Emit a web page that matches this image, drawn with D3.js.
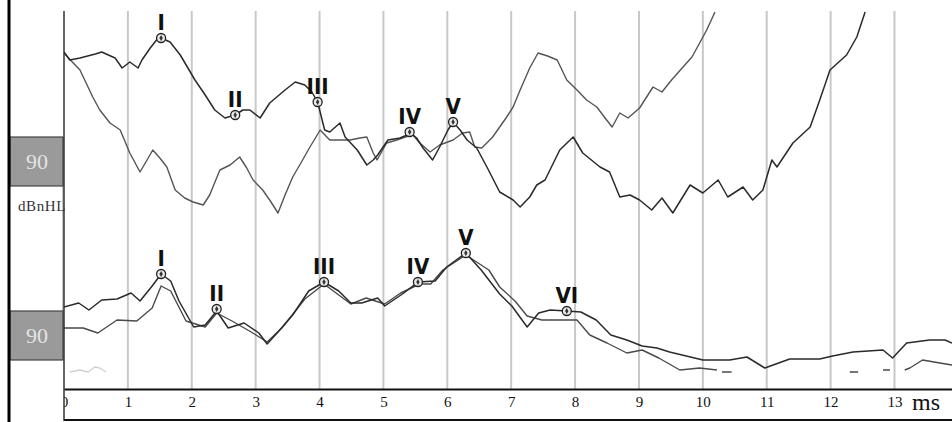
<!DOCTYPE html>
<html>
<head>
<meta charset="utf-8">
<script src="https://cdn.jsdelivr.net/npm/d3@7"></script>
<style>
  body { margin: 0; background: #fff; }
  svg { display: block; }
</style>
</head>
<body>
<svg id="chart" width="952" height="422"></svg>
<script>
// time axis, ms
const tickValues = d3.range(0, 14);

// upper recording pair (amplitude relative to its 90 dBnHL baseline)
const upperA = [[0,10.9],[0.09,10.1],[0.25,10.3],[0.49,10.7],[0.59,10.9],[0.8,10.3],[0.91,9.3],[1.03,9.9],[1.16,9.3],[1.22,10.1],[1.35,11.3],[1.46,12.2],[1.52,12.3],[1.66,11.9],[1.82,10.6],[2.05,8.1],[2.21,6.6],[2.36,5.1],[2.52,4.3],[2.68,4.6],[2.8,5.1],[2.91,5.1],[3.07,4.3],[3.22,5.8],[3.46,7.1],[3.62,7.9],[3.77,7.6],[3.88,6.9],[3.97,5.9],[4.08,3.1],[4.16,2.9],[4.32,3.8],[4.4,2.4],[4.59,1.1],[4.74,-0.4],[4.84,0.1],[4.91,0.6],[5.07,2.1],[5.26,2.3],[5.37,2.6],[5.41,2.9],[5.52,2.3],[5.62,1.3],[5.77,0.1],[5.88,1.4],[6.01,3.1],[6.09,3.9],[6.2,3.1],[6.31,2.1],[6.46,1.3],[6.62,-0.6],[6.82,-3.1],[7.03,-3.9],[7.14,-4.6],[7.29,-3.6],[7.4,-2.4],[7.53,-1.9],[7.76,1.1],[7.97,2.4],[8.12,0.8],[8.39,-0.6],[8.54,-1.1],[8.7,-3.6],[8.86,-3.4],[9.01,-3.9],[9.2,-4.9],[9.36,-3.7],[9.53,-5.2],[9.8,-2.4],[10,-3.2],[10.24,-1.9],[10.39,-3.6],[10.63,-2.6],[10.78,-3.9],[10.94,-2.9],[11.08,0.1],[11.16,-0.6],[11.41,1.8],[11.68,3.4],[11.83,6.1],[11.99,9.1],[12.25,10.6],[12.41,12.4],[12.54,14.9]];
const upperB = [[0,10.8],[0.13,9.9],[0.25,9.1],[0.45,6.4],[0.56,5.1],[0.72,3.8],[0.88,3.1],[1.03,0.8],[1.19,-1.1],[1.3,0.1],[1.39,1.1],[1.5,0.3],[1.61,-0.6],[1.74,-2.9],[1.89,-3.7],[2.02,-4.1],[2.18,-4.4],[2.28,-3.4],[2.44,-0.9],[2.6,-0.4],[2.75,0.4],[2.86,-0.7],[2.96,-1.9],[3.11,-2.9],[3.22,-3.9],[3.35,-5.2],[3.46,-3.4],[3.58,-1.6],[3.69,-0.4],[3.85,1.4],[4.01,3.1],[4.16,2.1],[4.37,2.1],[4.48,2.1],[4.63,2.3],[4.74,2.4],[4.84,0.8],[4.9,0.1],[5.05,1.8],[5.21,2.1],[5.34,2.4],[5.46,2.6],[5.57,1.8],[5.73,0.9],[5.88,1.6],[6.09,2.1],[6.24,2.8],[6.35,2.9],[6.43,1.4],[6.54,1.3],[6.71,2.4],[6.93,4.4],[7.03,5.4],[7.14,7.1],[7.29,9.3],[7.42,10.8],[7.57,10.5],[7.72,10.1],[7.87,8.1],[8.03,7.1],[8.18,6.1],[8.34,5.4],[8.47,4.3],[8.58,3.4],[8.7,4.8],[8.83,4.3],[9.01,5.3],[9.22,7.4],[9.36,6.9],[9.51,8.1],[9.69,9.4],[9.83,10.4],[9.95,11.8],[10.06,13.1],[10.19,14.9]];

// lower recording pair
const lowerC = [[0,2.8],[0.23,3.2],[0.39,2.5],[0.59,3.5],[0.83,3.6],[1.05,4.2],[1.19,3.4],[1.38,4.9],[1.52,6.1],[1.67,5.4],[1.8,3.4],[2.03,0.8],[2.21,1.0],[2.39,2.4],[2.57,0.7],[2.82,1.2],[3.05,0.2],[3.18,-0.9],[3.35,0.3],[3.58,2.0],[3.83,4.4],[4.07,5.3],[4.3,4.4],[4.49,3.2],[4.66,3.2],[4.91,3.7],[5.02,2.9],[5.32,4.2],[5.54,5.3],[5.81,5.4],[5.99,6.8],[6.29,8.2],[6.53,6.5],[6.82,4.1],[7.01,2.9],[7.25,0.8],[7.43,2.2],[7.61,2.5],[7.87,2.4],[8.09,2.3],[8.33,1.5],[8.56,0.0],[8.81,-0.5],[9.05,-1.1],[9.28,-1.3],[9.48,-1.7],[10,-2.5],[10.42,-2.5],[10.69,-2.2],[10.97,-3.3],[11.36,-2.4],[11.83,-2.4],[12.03,-2.1],[12.35,-1.7],[12.82,-1.5],[12.97,-2.3],[13.19,-0.8],[13.55,-0.5],[13.79,-0.5],[13.9,-0.8]];
const lowerD = [[0,0.7],[0.3,0.7],[0.53,0.2],[0.83,1.5],[1.14,1.4],[1.38,2.7],[1.52,4.9],[1.67,4.4],[1.91,1.4],[2.21,0.8],[2.39,2.2],[2.63,1.4],[2.93,0.3],[3.18,-0.7],[3.41,0.7],[3.77,3.6],[4.07,5.1],[4.49,3.1],[4.73,3.7],[5.02,3.1],[5.27,4.2],[5.57,5.1],[5.74,5.1],[5.93,6.5],[6.29,8.0],[6.65,6.5],[6.82,4.8],[7.06,3.4],[7.25,1.9],[7.48,1.5],[7.73,1.5],[8.03,1.5],[8.23,0.0],[8.5,-0.8],[8.81,-1.8],[9.05,-1.5],[9.31,-2.3],[9.64,-3.5],[9.95,-3.3],[10.22,-3.5],null,[10.3,-3.7],[10.45,-3.7],null,[12.3,-3.7],[12.43,-3.7],null,[12.82,-3.5],[12.93,-3.5],null,[13.16,-3.5],[13.24,-3.3],[13.44,-2.5],[13.71,-2.8],[13.9,-3.0]];
const lowerFaint = [[0.09,-3.7],[0.25,-3.5],[0.38,-3.7],[0.48,-3.2],[0.56,-3.3],[0.66,-3.7]];

// wave labels
const upperPeakLabels = ['I', 'II', 'III', 'IV', 'V'];
const upperPeakTimes = [1.52, 2.68, 3.97, 5.41, 6.09];
const upperPeakAmps = [12.3, 4.6, 5.9, 2.9, 3.9];
const lowerPeakLabels = ['I', 'II', 'III', 'IV', 'V', 'VI'];
const lowerPeakTimes = [1.52, 2.39, 4.07, 5.54, 6.29, 7.87];
const lowerPeakAmps = [6.1, 2.6, 5.3, 5.3, 8.2, 2.4];

const levelLabels = ['90', '90'];

const W = 952, H = 422;
const plotLeft = 64, plotTop = 11, plotBottom = 389;

const svg = d3.select('#chart');

const x = d3.scaleLinear().domain([0, 13.9]).range([plotLeft, W]);
const yUpper = d3.scaleLinear().domain([-22.8, 15]).range([plotBottom, plotTop]);
const yLower = d3.scaleLinear().domain([-5.4, 32.4]).range([plotBottom, plotTop]);

const defs = svg.append('defs');
defs.append('clipPath').attr('id', 'plot')
  .append('rect').attr('x', plotLeft).attr('y', plotTop).attr('width', W - plotLeft).attr('height', plotBottom - plotTop);
// axis group is translated down to the baseline, so this rect is in its local coords
defs.append('clipPath').attr('id', 'axisclip')
  .append('rect').attr('x', plotLeft).attr('y', -2).attr('width', W - plotLeft).attr('height', H - plotBottom + 2);

// grid
svg.append('g').selectAll('line').data(tickValues.slice(1)).join('line')
  .attr('x1', d => x(d)).attr('x2', d => x(d))
  .attr('y1', plotTop).attr('y2', plotBottom)
  .attr('stroke', '#c8c8c8').attr('stroke-width', 2);

// level boxes on the left
const boxCenters = [yUpper(0), yLower(0)];
svg.append('line').attr('x1', 63).attr('x2', 63).attr('y1', boxCenters[0] - 24).attr('y2', boxCenters[1] + 25)
  .attr('stroke', '#888').attr('stroke-width', 1);
const boxes = svg.append('g').selectAll('g').data(levelLabels).join('g')
  .attr('transform', (d, i) => `translate(10,${boxCenters[i] - 24})`);
boxes.append('rect').attr('width', 53).attr('height', 49)
  .attr('fill', '#9a9a9a').attr('stroke', '#444').attr('stroke-width', 1.2);
boxes.append('text').attr('x', 27).attr('y', 32).attr('text-anchor', 'middle')
  .attr('font-family', 'Liberation Serif, serif').attr('font-size', 22)
  .attr('fill', '#e4e4e4').text(d => d);

svg.append('text').attr('x', 18).attr('y', 211)
  .attr('font-family', 'Liberation Serif, serif').attr('font-size', 15)
  .attr('letter-spacing', 0.6).attr('fill', '#333').text('dBnHL');

// traces
const plot = svg.append('g').attr('clip-path', 'url(#plot)');
function trace(data, y, color, width) {
  const line = d3.line().defined(d => d != null).x(d => x(d[0])).y(d => y(d[1]));
  plot.append('path').attr('d', line(data)).attr('fill', 'none')
    .attr('stroke', color).attr('stroke-width', width).attr('stroke-linejoin', 'round');
}
trace(upperB, yUpper, '#555', 1.4);
trace(upperA, yUpper, '#2a2a2a', 1.5);
trace(lowerFaint, yLower, '#d0d0d0', 1.3);
trace(lowerD, yLower, '#4a4a4a', 1.4);
trace(lowerC, yLower, '#2a2a2a', 1.5);

// peak markers + labels
function peaks(labels, times, amps, y) {
  const g = svg.append('g').selectAll('g').data(labels).join('g')
    .attr('transform', (d, i) => `translate(${x(times[i])},${y(amps[i])})`);
  g.append('circle').attr('r', 4.5).attr('fill', '#e8e8e8').attr('stroke', '#222').attr('stroke-width', 1.3);
  g.append('path').attr('d', d3.symbol(d3.symbolDiamond, 10)()).attr('fill', '#333');
  g.append('text').attr('y', -8).attr('text-anchor', 'middle')
    .attr('font-family', 'DejaVu Sans Condensed, Liberation Sans Narrow, sans-serif')
    .attr('font-weight', 'bold').attr('font-size', 22).attr('fill', '#111')
    .text(d => d);
}
peaks(upperPeakLabels, upperPeakTimes, upperPeakAmps, yUpper);
peaks(lowerPeakLabels, lowerPeakTimes, lowerPeakAmps, yLower);

// frame
svg.append('line').attr('x1', 9).attr('x2', 9).attr('y1', 0).attr('y2', H).attr('stroke', '#000').attr('stroke-width', 3);
svg.append('line').attr('x1', plotLeft).attr('x2', plotLeft).attr('y1', plotTop).attr('y2', H - 1).attr('stroke', '#333').attr('stroke-width', 1.5);
svg.append('line').attr('x1', plotLeft).attr('x2', W).attr('y1', 420).attr('y2', 420).attr('stroke', '#111').attr('stroke-width', 2);

// time axis
const axis = svg.append('g').attr('transform', `translate(0,${plotBottom})`)
  .attr('clip-path', 'url(#axisclip)')
  .call(d3.axisBottom(x).tickValues(tickValues).tickSize(0).tickPadding(7).tickFormat(d3.format('d')));
axis.select('.domain').attr('stroke', '#111').attr('stroke-width', 2.2);
axis.selectAll('text').attr('font-family', 'Liberation Serif, serif').attr('font-size', 15).attr('fill', '#111');
svg.append('text').attr('x', 912).attr('y', 410)
  .attr('font-family', 'Liberation Serif, serif').attr('font-size', 24).attr('fill', '#111').text('ms');
</script>
</body>
</html>
